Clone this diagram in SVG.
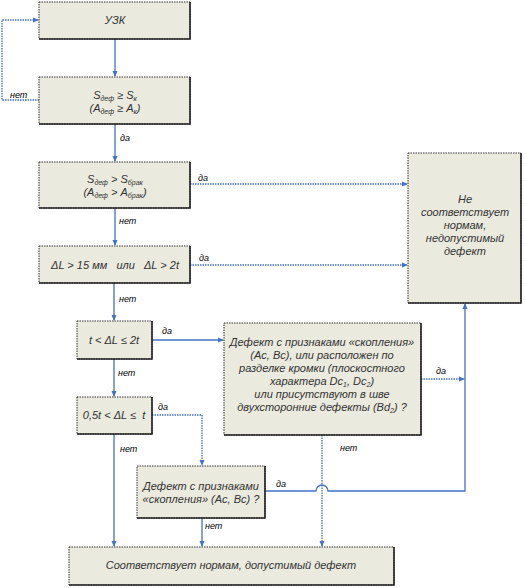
<svg xmlns="http://www.w3.org/2000/svg" width="525" height="588" viewBox="0 0 525 588">
<defs>
<marker id="ah" markerWidth="6" markerHeight="6" refX="5" refY="3" orient="auto" markerUnits="userSpaceOnUse">
<path d="M0,0.5 L6,3 L0,5.5 Z" fill="#4472c4"/>
</marker>
</defs>
<style>
.box{fill:#eaeade;stroke:#333;stroke-width:1;stroke-dasharray:1.5,1}
.edge{fill:none;stroke:#222;stroke-width:1.6}
.t{font-family:"Liberation Sans",Arial,sans-serif;font-style:italic;font-size:11px;fill:#333;text-anchor:middle}
.s{font-size:7px}
.c{fill:none;stroke:#4472c4;stroke-width:1.3}
.d{stroke-dasharray:1.5,1}
.lbl{font-family:"Liberation Sans",Arial,sans-serif;font-style:italic;font-size:9px;fill:#000;stroke:#fff;stroke-width:2;paint-order:stroke}
</style>
<rect width="525" height="588" fill="#fff"/>
<g id="connectors">
<path class="c" d="M115,39 V76" marker-end="url(#ah)"/>
<path class="c d" d="M39,100 H2 V20 H38" marker-end="url(#ah)"/>
<path class="c" d="M115,124 V161" marker-end="url(#ah)"/>
<path class="c" d="M115,208 V245" marker-end="url(#ah)"/>
<path class="c d" d="M190,184 H407" marker-end="url(#ah)"/>
<path class="c" d="M114,283 V320" marker-end="url(#ah)"/>
<path class="c d" d="M190,265 H407" marker-end="url(#ah)"/>
<path class="c" d="M152,340 H223" marker-end="url(#ah)"/>
<path class="c" d="M114,359 V396" marker-end="url(#ah)"/>
<path class="c d" d="M152,415 H202 V465" marker-end="url(#ah)"/>
<path class="c" d="M114,434 V546" marker-end="url(#ah)"/>
<path class="c" d="M202,518 V546" marker-end="url(#ah)"/>
<path class="c d" d="M322,435 V546" marker-end="url(#ah)"/>
<path class="c d" d="M421,379 H464" marker-end="url(#ah)"/>
<path class="c" d="M265,491 H316 A6,6 0 0 1 328,491 H465 V304" marker-end="url(#ah)"/>
</g>
<g id="labels">
<text class="lbl" x="10" y="98">нет</text>
<text class="lbl" x="120" y="141">да</text>
<text class="lbl" x="198" y="181">да</text>
<text class="lbl" x="119" y="224">нет</text>
<text class="lbl" x="199" y="261">да</text>
<text class="lbl" x="119" y="302">нет</text>
<text class="lbl" x="162" y="334">да</text>
<text class="lbl" x="118" y="376">нет</text>
<text class="lbl" x="158" y="410">да</text>
<text class="lbl" x="120" y="452">нет</text>
<text class="lbl" x="205" y="529">нет</text>
<text class="lbl" x="340" y="451">нет</text>
<text class="lbl" x="436" y="374">да</text>
<text class="lbl" x="276" y="487">да</text>
</g>
<g id="n1">
<rect class="box" x="39" y="2" width="151" height="37"/>
<path class="edge" d="M190,2 V39 H39"/>
<text class="t" x="115" y="24">УЗК</text>
</g>
<g id="n2">
<rect class="box" x="39" y="77" width="151" height="47"/>
<path class="edge" d="M190,77 V124 H39"/>
<text class="t" x="115" y="99">S<tspan class="s" dy="1.5">деф</tspan><tspan dy="-1.5"> ≥ S</tspan><tspan class="s" dy="1.5">к</tspan></text>
<text class="t" x="115" y="112">(A<tspan class="s" dy="1.5">деф</tspan><tspan dy="-1.5"> ≥ A</tspan><tspan class="s" dy="1.5">к</tspan><tspan dy="-1.5">)</tspan></text>
</g>
<g id="n3">
<rect class="box" x="39" y="162" width="151" height="46"/>
<path class="edge" d="M190,162 V208 H39"/>
<text class="t" x="115" y="183">S<tspan class="s" dy="1.5">деф</tspan><tspan dy="-1.5"> &gt; S</tspan><tspan class="s" dy="1.5">брак</tspan></text>
<text class="t" x="115" y="196">(A<tspan class="s" dy="1.5">деф</tspan><tspan dy="-1.5"> &gt; A</tspan><tspan class="s" dy="1.5">брак</tspan><tspan dy="-1.5">)</tspan></text>
</g>
<g id="n4">
<rect class="box" x="39" y="246" width="151" height="37"/>
<path class="edge" d="M190,246 V283 H39"/>
<text class="t" x="115" y="269" xml:space="preserve">ΔL &gt; 15 мм   или   ΔL &gt; 2t</text>
</g>
<g id="n5">
<rect class="box" x="408" y="153" width="113" height="150"/>
<path class="edge" d="M521,153 V303 H408"/>
<text class="t" x="465" y="203">Не</text>
<text class="t" x="465" y="216">соответствует</text>
<text class="t" x="465" y="229">нормам,</text>
<text class="t" x="465" y="242">недопустимый</text>
<text class="t" x="465" y="255">дефект</text>
</g>
<g id="n6">
<rect class="box" x="77" y="321" width="75" height="38"/>
<path class="edge" d="M152,321 V359 H77"/>
<text class="t" x="114" y="344">t &lt; ΔL ≤ 2t</text>
</g>
<g id="n7">
<rect class="box" x="77" y="397" width="75" height="37"/>
<path class="edge" d="M152,397 V434 H77"/>
<text class="t" x="114" y="419" xml:space="preserve">0,5t &lt; ΔL ≤  t</text>
</g>
<g id="n8">
<rect class="box" x="224" y="323" width="197" height="112"/>
<path class="edge" d="M421,323 V435 H224"/>
<text class="t" x="322" y="346">Дефект с признаками «скопления»</text>
<text class="t" x="322" y="359">(Ac, Bc), или расположен по</text>
<text class="t" x="322" y="372">разделке кромки (плоскостного</text>
<text class="t" x="322" y="385">характера Dc<tspan class="s" dy="1.5">1</tspan><tspan dy="-1.5">, Dc</tspan><tspan class="s" dy="1.5">2</tspan><tspan dy="-1.5">)</tspan></text>
<text class="t" x="322" y="398">или присутствуют в шве</text>
<text class="t" x="322" y="411">двухсторонние дефекты (Bd<tspan class="s" dy="1.5">2</tspan><tspan dy="-1.5">) ?</tspan></text>
</g>
<g id="n9">
<rect class="box" x="137" y="466" width="128" height="52"/>
<path class="edge" d="M265,466 V518 H137"/>
<text class="t" x="201" y="490">Дефект с признаками</text>
<text class="t" x="201" y="503">«скопления» (Ac, Bc) ?</text>
</g>
<g id="n10">
<rect class="box" x="69" y="547" width="325" height="38"/>
<path class="edge" d="M394,547 V585 H69"/>
<text class="t" x="231" y="569">Соответствует нормам, допустимый дефект</text>
</g>
</svg>
